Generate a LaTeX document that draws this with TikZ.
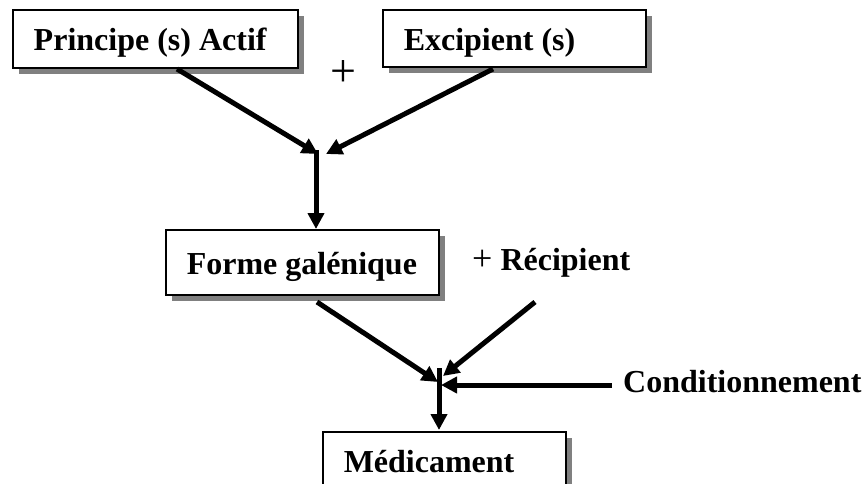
\documentclass[tikz,border=0pt]{standalone}
\usepackage{fontspec}
\setmainfont{Liberation Serif}
\usetikzlibrary{arrows.meta,shadows}
\newcommand{\bxt}[2]{\makebox[#1][l]{#2}}
\begin{document}
\begin{tikzpicture}[x=1pt,y=-1pt,
  box/.style={draw=black, line width=1.5pt, fill=white, anchor=north west,
    font=\fontsize{32}{38}\selectfont\bfseries, inner xsep=21pt, inner ysep=0pt,
    text height=24pt, text depth=0pt,
    drop shadow={shadow xshift=6pt, shadow yshift=-6pt, fill=black!50, opacity=1}},
  lbl/.style={font=\fontsize{32}{38}\selectfont\bfseries, inner sep=0pt, anchor=base west},
  arr/.style={line width=5pt, -{Triangle[length=16pt,width=16pt]}}]
\clip (0,0) rectangle (863,483);
\fill[white] (0,0) rectangle (863,483);
% boxes
\node[box, minimum height=58pt] (pa) at (12,9) {\bxt{243pt}{Principe (s) Actif}};
\node[box, minimum height=57pt] (ex) at (382,9) {\bxt{221pt}{Excipient (s)}};
\node[box, minimum height=65pt] (fg) at (165,229) {\bxt{231pt}{Forme galénique}};
\node[box, minimum height=58pt] (me) at (322,431) {\bxt{201pt}{Médicament}};
% texts
\node[font=\fontsize{46}{50}\selectfont, inner sep=0pt] (plus) at (343,74) {+};
\node[lbl] (rec) at (472,270) {{\mdseries\fontsize{36}{40}\selectfont +} Récipient};
\node[lbl] (cond) at (623,392) {Conditionnement};
% coordinates
\coordinate (pa1) at (177,69);
\coordinate (ex1) at (493,69);
\coordinate (j1l) at (318,154);
\coordinate (j1r) at (326,154);
\coordinate (v1a) at (316,150);
\coordinate (v1b) at (316,229);
\coordinate (fg1) at (317,302);
\coordinate (rc1) at (535,302);
\coordinate (j2l) at (438,382);
\coordinate (j2r) at (443,376);
\coordinate (c1) at (612,385);
\coordinate (j2c) at (441,385);
\coordinate (v2a) at (439,368);
\coordinate (v2b) at (439,430);
% connectors
\draw[arr] (pa1) -- (j1l);
\draw[arr] (ex1) -- (j1r);
\draw[arr] (v1a) -- (v1b);
\draw[arr] (fg1) -- (j2l);
\draw[arr] (rc1) -- (j2r);
\draw[arr] (c1) -- (j2c);
\draw[arr] (v2a) -- (v2b);
\end{tikzpicture}
\end{document}
